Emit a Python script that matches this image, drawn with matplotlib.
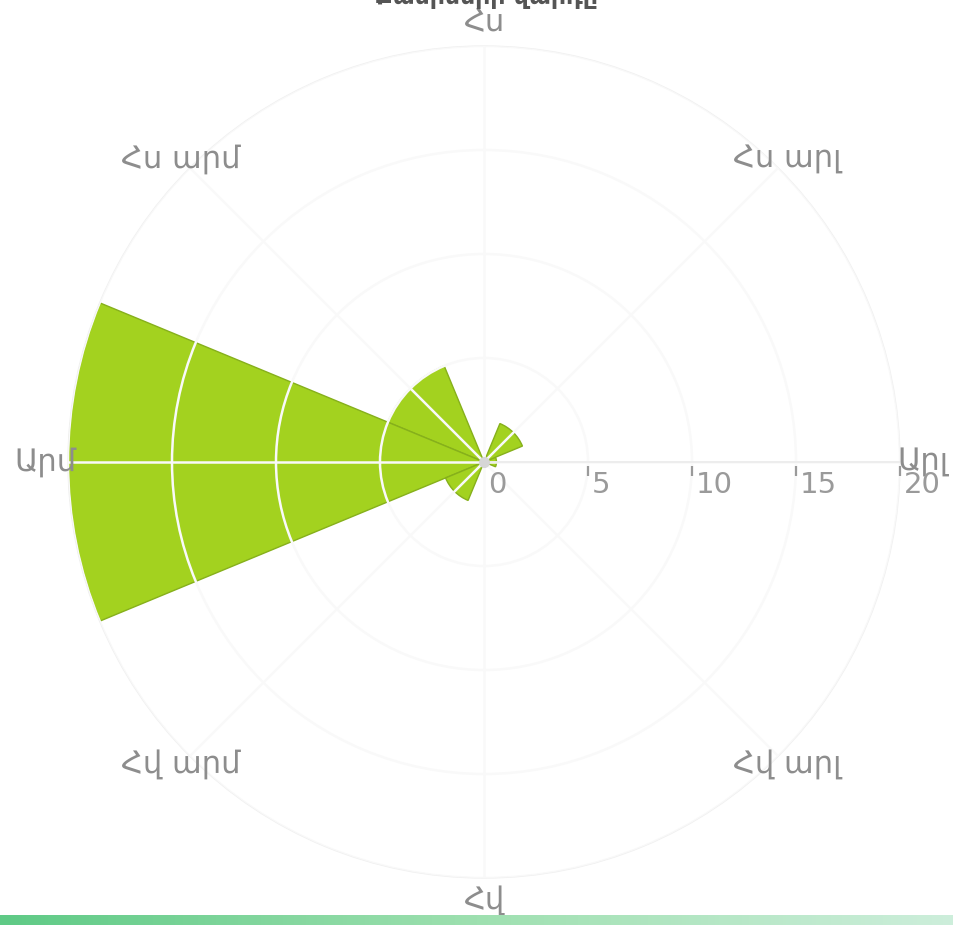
import numpy as np
import matplotlib
matplotlib.use("Agg")
import matplotlib.pyplot as plt
import matplotlib.transforms as mtransforms
from matplotlib.colors import LinearSegmentedColormap

plt.rcParams['font.family'] = ['DejaVu Sans']

# Wind directions (degrees, counter-clockwise from east) and their labels
directions = ["Արլ", "Հս արլ", "Հս", "Հս արմ", "Արմ", "Հվ արմ", "Հվ", "Հվ արլ"]
angles_deg = [0, 45, 90, 135, 180, 225, 270, 315]
# Number of days the wind blew from each direction
frequency = [0.6, 2, 0, 5, 20, 2, 0, 0]
radial_ticks = [0, 5, 10, 15, 20]
title = "Քամիների վարդը"

bar_color = "#a3d21f"
edge_color = "#86b01b"
label_color = "#8d8d8d"

W, H = 954, 925
fig = plt.figure(figsize=(W / 100, H / 100), dpi=100)

cx, cy, rad = 484, 462, 416
ax = fig.add_axes([(cx - rad) / W, (H - cy - rad) / H, 2 * rad / W, 2 * rad / H],
                  projection="polar")
ax.set_ylim(0, 20)
ax.set_facecolor("white")

theta = np.deg2rad(angles_deg)
width = np.deg2rad(45)
ax.bar(theta, frequency, width=width, color=bar_color, edgecolor=edge_color,
       linewidth=1.0, zorder=2)

# very light grid, drawn over the bars
ax.set_thetagrids(angles_deg, [""] * len(angles_deg))
ax.set_rgrids([5, 10, 15, 20], [""] * 4)
ax.grid(True, color="#f9f9f9", linewidth=1.8)
ax.set_axisbelow(False)
for gl in ax.xaxis.get_gridlines() + ax.yaxis.get_gridlines():
    gl.set_zorder(3)
ax.spines["polar"].set_color("#f0f0f0")
ax.spines["polar"].set_linewidth(1.0)
ax.plot([0, 0], [0, 20], color="#ebebeb", linewidth=1.2, zorder=3)
ax.plot([0], [0], marker="o", markersize=7, color="#d6d6d6", zorder=4)

# direction labels around the rose
for name, a in zip(directions, angles_deg):
    r = 21.1 if a % 90 == 0 else 20.6
    ax.text(np.deg2rad(a), r, name, ha="center", va="center", fontsize=22,
            color=label_color, clip_on=False, zorder=5)

# radial scale along the east axis
tick_tr = mtransforms.offset_copy(ax.transData, fig=fig, x=0, y=-9, units="dots")
lab_tr = mtransforms.offset_copy(ax.transData, fig=fig, x=4, y=-9, units="dots")
for t in radial_ticks:
    if t > 0:
        ax.plot([0], [t], marker="|", markersize=7, markeredgewidth=1.6,
                color="#9a9a9a", transform=tick_tr, clip_on=False, zorder=5)
    ax.text(0, t, str(t), transform=lab_tr, ha="left", va="top", fontsize=21,
            color="#9a9a9a", clip_on=False, zorder=5)

fig.text(0.51, 1 - 4 / H, title, ha="center", va="baseline", fontsize=17,
         fontweight="bold", color="#555555")

# green strip along the bottom edge
strip = fig.add_axes([0, 0, 1, 10 / H])
grad = np.linspace(0, 1, 256).reshape(1, -1)
cmap = LinearSegmentedColormap.from_list("strip", ["#5fca86", "#9ee0b0", "#cdeedb"])
strip.imshow(grad, aspect="auto", cmap=cmap, extent=[0, 1, 0, 1])
strip.axis("off")

fig.savefig("out.png", dpi=100, facecolor="white")
